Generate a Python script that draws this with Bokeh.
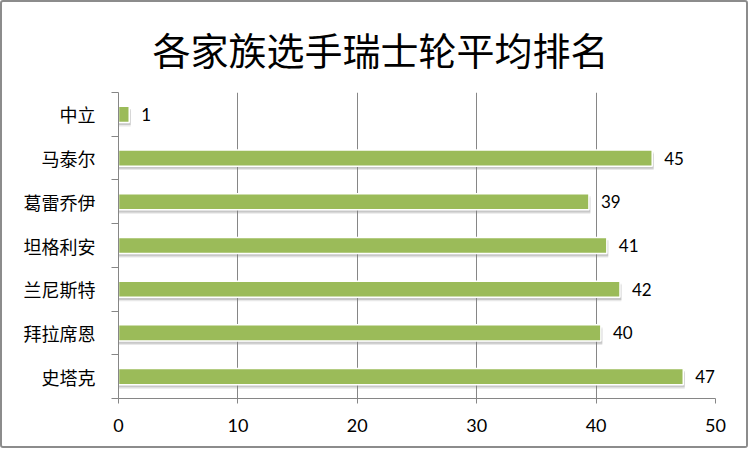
from bokeh.plotting import figure
from bokeh.models import FixedTicker, Range1d, Title, ColumnDataSource
from bokeh.core.properties import value
from bokeh.embed import file_html
from bokeh.resources import INLINE

title_text = "各家族选手瑞士轮平均排名"
categories = ["中立", "马泰尔", "葛雷乔伊", "坦格利安", "兰尼斯特", "拜拉席恩", "史塔克"]
avg_rank = [0.9, 44.7, 39.4, 40.9, 42.0, 40.4, 47.3]
x_ticks = [0, 10, 20, 30, 40, 50]

n = len(categories)
ys = [n - i - 0.5 for i in range(n)]
labels = [f"{v:.0f}" for v in avg_rank]

src = ColumnDataSource(dict(y=ys, v=avg_rank, lab=labels,
                            ys1=[y - 0.06 for y in ys], ys2=[y - 0.09 for y in ys],
                            vs=[v + 0.12 for v in avg_rank]))

W, H = 748, 448
FL, FB = 116, 396  # frame left / bottom in canvas pixels
p = figure(width=W, height=H, output_backend="svg", toolbar_location=None,
           x_range=Range1d(0, 50), y_range=Range1d(0, n),
           min_border_left=FL, min_border_right=35, min_border_top=90, min_border_bottom=H - FB)
p.title = None
p.outline_line_color = None
p.background_fill_color = "white"
p.border_fill_color = "white"
p.styles = {"border": "2px solid #8c8c8c", "border-radius": "3px"}

# shadows
p.hbar(y="ys2", left=0, right="vs", height=0.37, source=src, fill_color="#7f7f7f", fill_alpha=0.18, line_color=None)
p.hbar(y="ys1", left=0, right="vs", height=0.37, source=src, fill_color="#7f7f7f", fill_alpha=0.30, line_color=None)
# bars
p.hbar(y="y", left=0, right="v", height=0.37, source=src, fill_color="#9BBB59", line_color="white", line_width=1.5)
p.text(x="v", y="y", text="lab", source=src, x_offset=12, text_baseline="middle", text_align="left",
       text_font=value("Lato"), text_font_size="17px", text_color="black")

# axes
p.xaxis.ticker = FixedTicker(ticks=x_ticks)
p.xaxis.axis_line_color = "#868686"
p.xaxis.major_tick_line_color = "#868686"
p.xaxis.major_tick_out = 5
p.xaxis.major_tick_in = 0
p.xaxis.minor_tick_line_color = None
p.xaxis.major_label_text_font = "Lato"
p.xaxis.major_label_text_font_size = "18px"
p.xaxis.major_label_text_color = "black"
p.xaxis.major_label_standoff = 15

p.yaxis.ticker = FixedTicker(ticks=ys, minor_ticks=list(range(n + 1)))
p.yaxis.major_label_overrides = {y: c for y, c in zip(ys, categories)}
p.yaxis.axis_line_color = "#868686"
p.yaxis.major_tick_line_color = None
p.yaxis.major_tick_out = 0
p.yaxis.major_tick_in = 0
p.yaxis.minor_tick_line_color = "#868686"
p.yaxis.minor_tick_out = 7
p.yaxis.minor_tick_in = 0
p.yaxis.major_label_text_font = "Noto Sans CJK SC"
p.yaxis.major_label_text_font_size = "18px"
p.yaxis.major_label_text_color = "black"
p.yaxis.major_label_standoff = 16

p.xgrid.grid_line_color = "#868686"
p.xgrid.ticker = FixedTicker(ticks=x_ticks)
p.ygrid.grid_line_color = None

p.add_layout(Title(text=title_text, align="left", vertical_align="top", text_font="Noto Sans CJK SC",
                   text_font_size="38px", text_font_style="normal", text_color="black",
                   standoff=30, offset=34), "above")

open("out.html", "w").write(file_html(p, INLINE))
